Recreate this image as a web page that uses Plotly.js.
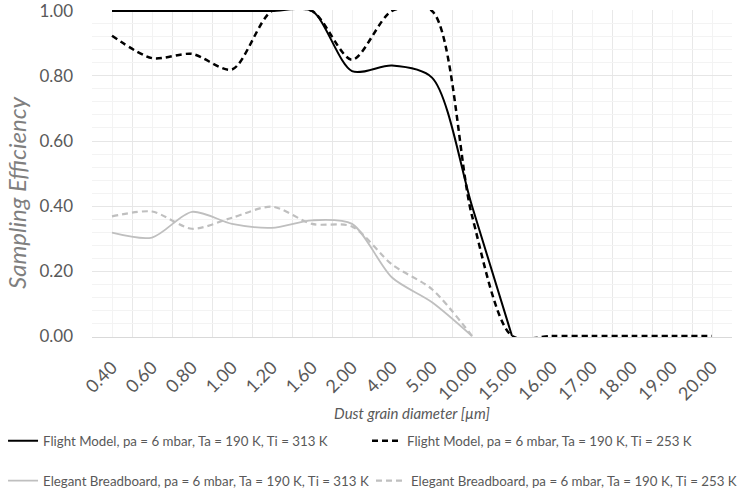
<!DOCTYPE html>
<html>
<head>
<meta charset="utf-8">
<script src="https://cdn.plot.ly/plotly-3.0.1.min.js"></script>
<style>html,body{margin:0;padding:0;background:#fff;}#chart{width:742px;height:496px;}</style>
</head>
<body>
<div id="chart"></div>
<script>
const categories = ["0.40","0.60","0.80","1.00","1.20","1.60","2.00","4.00","5.00","10.00","15.00","16.00","17.00","18.00","19.00","20.00"];
const fm313 = [1.00,1.00,1.00,1.00,1.00,1.00,0.815,0.832,0.795,0.40,0.00];
const fm253 = [0.924,0.855,0.868,0.820,1.00,1.00,0.850,1.00,1.00,0.37,0.00,0.00,0.00,0.00,0.00,0.00];
const eb313 = [0.318,0.303,0.382,0.345,0.333,0.356,0.345,0.180,0.104,0.00];
const eb253 = [0.368,0.383,0.330,0.364,0.398,0.345,0.337,0.220,0.144,0.00];
const names = [
  "Flight Model, pa = 6 mbar, Ta = 190 K, Ti = 313 K",
  "Flight Model, pa = 6 mbar, Ta = 190 K, Ti = 253 K",
  "Elegant Breadboard, pa = 6 mbar, Ta = 190 K, Ti = 313 K",
  "Elegant Breadboard, pa = 6 mbar, Ta = 190 K, Ti = 253 K"
];
const yTitle = "Sampling Efficiency";
const xTitle = "Dust grain diameter [µm]";
const idx = arr => arr.map((v,i)=>i);
const FONT = "Lato, 'Open Sans', sans-serif";

const traces = [
  {x: idx(fm313), y: fm313, name: names[0], mode:"lines", line:{color:"#000000", width:2, shape:"spline", smoothing:0.8}, legend:"legend"},
  {x: idx(fm253), y: fm253, name: names[1], mode:"lines", line:{color:"#000000", width:2.5, dash:"6px,4px", shape:"spline", smoothing:0.8}, legend:"legend2"},
  {x: idx(eb313), y: eb313, name: names[2], mode:"lines", line:{color:"#bfbfbf", width:1.8, shape:"spline", smoothing:0.8}, legend:"legend3"},
  {x: idx(eb253), y: eb253, name: names[3], mode:"lines", line:{color:"#bfbfbf", width:2.2, dash:"6px,4px", shape:"spline", smoothing:0.8}, legend:"legend4"}
];

const legendCommon = {
  orientation:"h", xanchor:"left", yanchor:"middle",
  font:{family:FONT, size:13.3, color:"#595959"},
  bgcolor:"rgba(0,0,0,0)", itemwidth:30, traceorder:"normal"
};
const L = o => Object.assign({}, legendCommon, o);

const layout = {
  width:742, height:496,
  margin:{l:92, r:10, t:10, b:159, autoexpand:false},
  paper_bgcolor:"#ffffff", plot_bgcolor:"#ffffff",
  font:{family:FONT, color:"#595959"},
  showlegend:true,
  xaxis:{
    range:[-0.5, 15.5], tickmode:"array", tickvals: categories.map((c,i)=>i), ticktext: categories,
    tickangle:-45, tickfont:{size:18, color:"#595959"}, ticks:"", ticklabelstandoff:12, ticklabeloverflow:"allow",
    showgrid:true, gridcolor:"#f3f3f3", gridwidth:1,
    minor:{tickmode:"linear", tick0:-0.5, dtick:1, showgrid:true, gridcolor:"#e8e8e8", gridwidth:1, ticks:""},
    showline:true, linecolor:"#d9d9d9", linewidth:1, zeroline:false, fixedrange:true, automargin:false,
    title:{text:xTitle, font:{size:15, color:"#595959", style:"italic"}, standoff:4}
  },
  yaxis:{
    range:[-0.003, 1.003], tickmode:"linear", tick0:0, dtick:0.2, tickformat:".2f",
    tickfont:{size:17, color:"#595959"}, ticks:"", ticklabelstandoff:18, ticklabeloverflow:"allow",
    showgrid:true, gridcolor:"#e6e6e6", gridwidth:1,
    minor:{tickmode:"linear", tick0:0, dtick:0.04, showgrid:true, gridcolor:"#f3f3f3", gridwidth:1, ticks:""},
    showline:false, zeroline:false, fixedrange:true, automargin:false
  },
  annotations:[{
    text:yTitle, textangle:-90, xref:"paper", yref:"paper", x:-0.119, y:0.44,
    xanchor:"center", yanchor:"middle", showarrow:false,
    font:{family:FONT, size:24, color:"#7f7f7f", style:"italic"}
  }],
  legend:  L({x:-0.139, y:-0.318}),
  legend2: L({x:0.4297, y:-0.318}),
  legend3: L({x:-0.139, y:-0.4404}),
  legend4: L({x:0.4359, y:-0.4404})
};

Plotly.newPlot("chart", traces, layout, {displayModeBar:false, staticPlot:true});
</script>
</body>
</html>
